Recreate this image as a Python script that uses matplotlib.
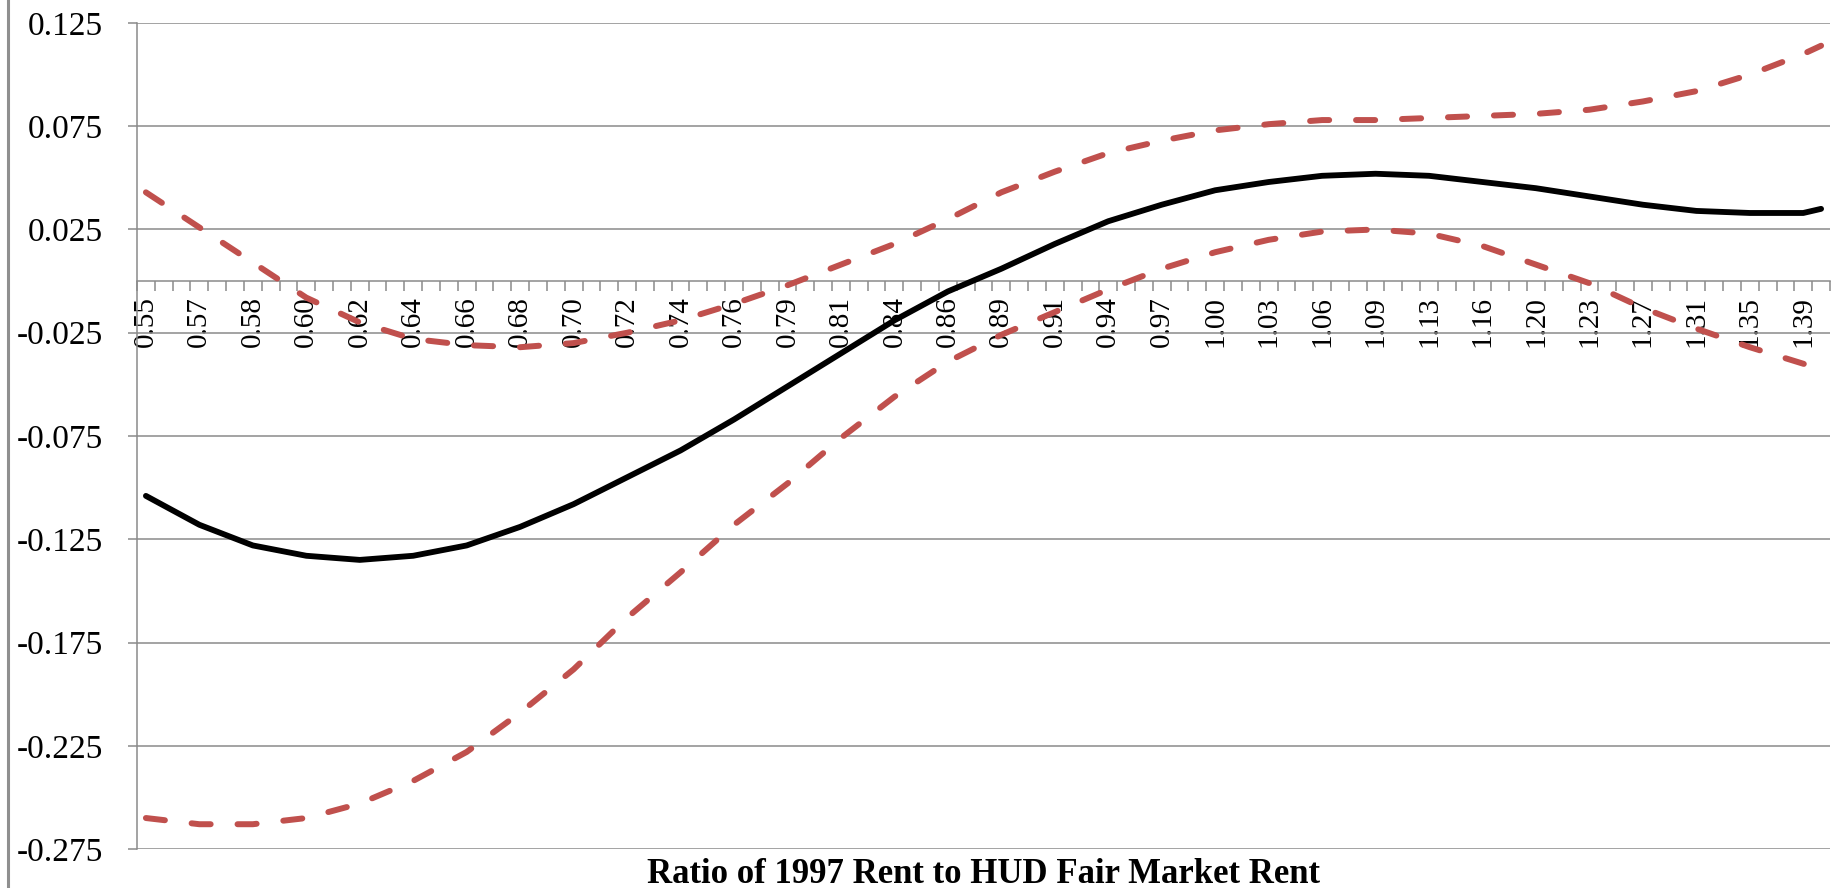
import matplotlib
matplotlib.use("Agg")
import matplotlib.pyplot as plt
from matplotlib.lines import Line2D
from matplotlib.ticker import FixedLocator, NullFormatter

plt.rcParams['font.family'] = ['Liberation Serif', 'DejaVu Serif']

# category labels shown on the axis (every third category)
x_labels = ['0.55', '0.57', '0.58', '0.60', '0.62', '0.64', '0.66', '0.68', '0.70',
            '0.72', '0.74', '0.76', '0.79', '0.81', '0.84', '0.86', '0.89', '0.91',
            '0.94', '0.97', '1.00', '1.03', '1.06', '1.09', '1.13', '1.16', '1.20',
            '1.23', '1.27', '1.31', '1.35', '1.39']
n_categories = 95
# categories where values were read (labelled ones + last category)
cat_idx = list(range(0, 94, 3)) + [94]

estimate = [-0.104, -0.118, -0.128, -0.133, -0.135, -0.133, -0.128, -0.119, -0.108,
            -0.095, -0.082, -0.067, -0.051, -0.035, -0.019, -0.005, 0.006, 0.018,
            0.029, 0.037, 0.044, 0.048, 0.051, 0.052, 0.051, 0.048, 0.045, 0.041,
            0.037, 0.034, 0.033, 0.033, 0.035]
upper = [0.043, 0.026, 0.009, -0.008, -0.020, -0.028, -0.031, -0.032, -0.030,
         -0.025, -0.019, -0.011, -0.002, 0.008, 0.018, 0.030, 0.043, 0.053,
         0.062, 0.068, 0.073, 0.076, 0.078, 0.078, 0.079, 0.080, 0.081, 0.083,
         0.087, 0.092, 0.100, 0.110, 0.114]
lower = [-0.260, -0.263, -0.263, -0.260, -0.253, -0.242, -0.228, -0.209, -0.188,
         -0.163, -0.141, -0.118, -0.098, -0.076, -0.056, -0.039, -0.026, -0.015,
         -0.004, 0.006, 0.014, 0.020, 0.024, 0.025, 0.023, 0.017, 0.008, -0.001,
         -0.013, -0.023, -0.032, -0.040, -0.043]

y_ticks = [-0.275, -0.225, -0.175, -0.125, -0.075, -0.025, 0.025, 0.075, 0.125]
y_labels = ['-0.275', '-0.225', '-0.175', '-0.125', '-0.075', '-0.025', '0.025', '0.075', '0.125']

grey = '#8a8a8a'
red = '#c0504d'

fig = plt.figure(figsize=(18.41, 8.88), dpi=100)
ax = fig.add_axes([137 / 1841, 39 / 888, 1693 / 1841, 826 / 888])

dash = (0, (3.2, 4.5))
ax.plot(cat_idx, upper, color=red, lw=4.3, ls=dash, dash_capstyle='round', zorder=3)
ax.plot(cat_idx, lower, color=red, lw=4.3, ls=dash, dash_capstyle='round', zorder=3)
ax.plot(cat_idx, estimate, color='black', lw=4.2, solid_capstyle='round', zorder=4)

ax.set_xlim(-0.5, n_categories - 0.5)
ax.set_ylim(-0.275, 0.125)

ax.set_yticks(y_ticks)
ax.set_yticklabels(y_labels, fontsize=24)
ax.tick_params(axis='y', direction='out', length=6.5, width=1.1, color=grey, pad=18)
ax.yaxis.grid(True, color=grey, lw=1.1)
ax.set_axisbelow(True)

# x axis crosses at zero, ticks between categories, labels every third category
ax.spines['bottom'].set_position(('data', 0))
ax.spines['top'].set_visible(False)
ax.spines['right'].set_visible(False)
for s in ['bottom', 'left']:
    ax.spines[s].set_color(grey)
    ax.spines[s].set_linewidth(1.1)

ax.xaxis.set_major_locator(FixedLocator([i - 0.5 for i in range(n_categories + 1)]))
ax.xaxis.set_major_formatter(NullFormatter())
ax.tick_params(axis='x', which='major', direction='out', length=7, width=1.1, color=grey)
ax.xaxis.set_minor_locator(FixedLocator(list(range(0, 94, 3))))
ax.set_xticklabels(x_labels, minor=True, rotation=90, fontsize=21, va='top', ha='center')
ax.tick_params(axis='x', which='minor', length=0, pad=11)

fig.text((137 + 1693 / 2) / 1841, 14 / 888, 'Ratio of 1997 Rent to HUD Fair Market Rent',
         ha='center', va='center', fontsize=25, fontweight='bold')

# grey frame line on the far left
fig.add_artist(Line2D([8 / 1841, 8 / 1841], [0, 1], transform=fig.transFigure,
                      color='#8f8f8f', lw=2.2))

fig.savefig('out.png', dpi=100)
